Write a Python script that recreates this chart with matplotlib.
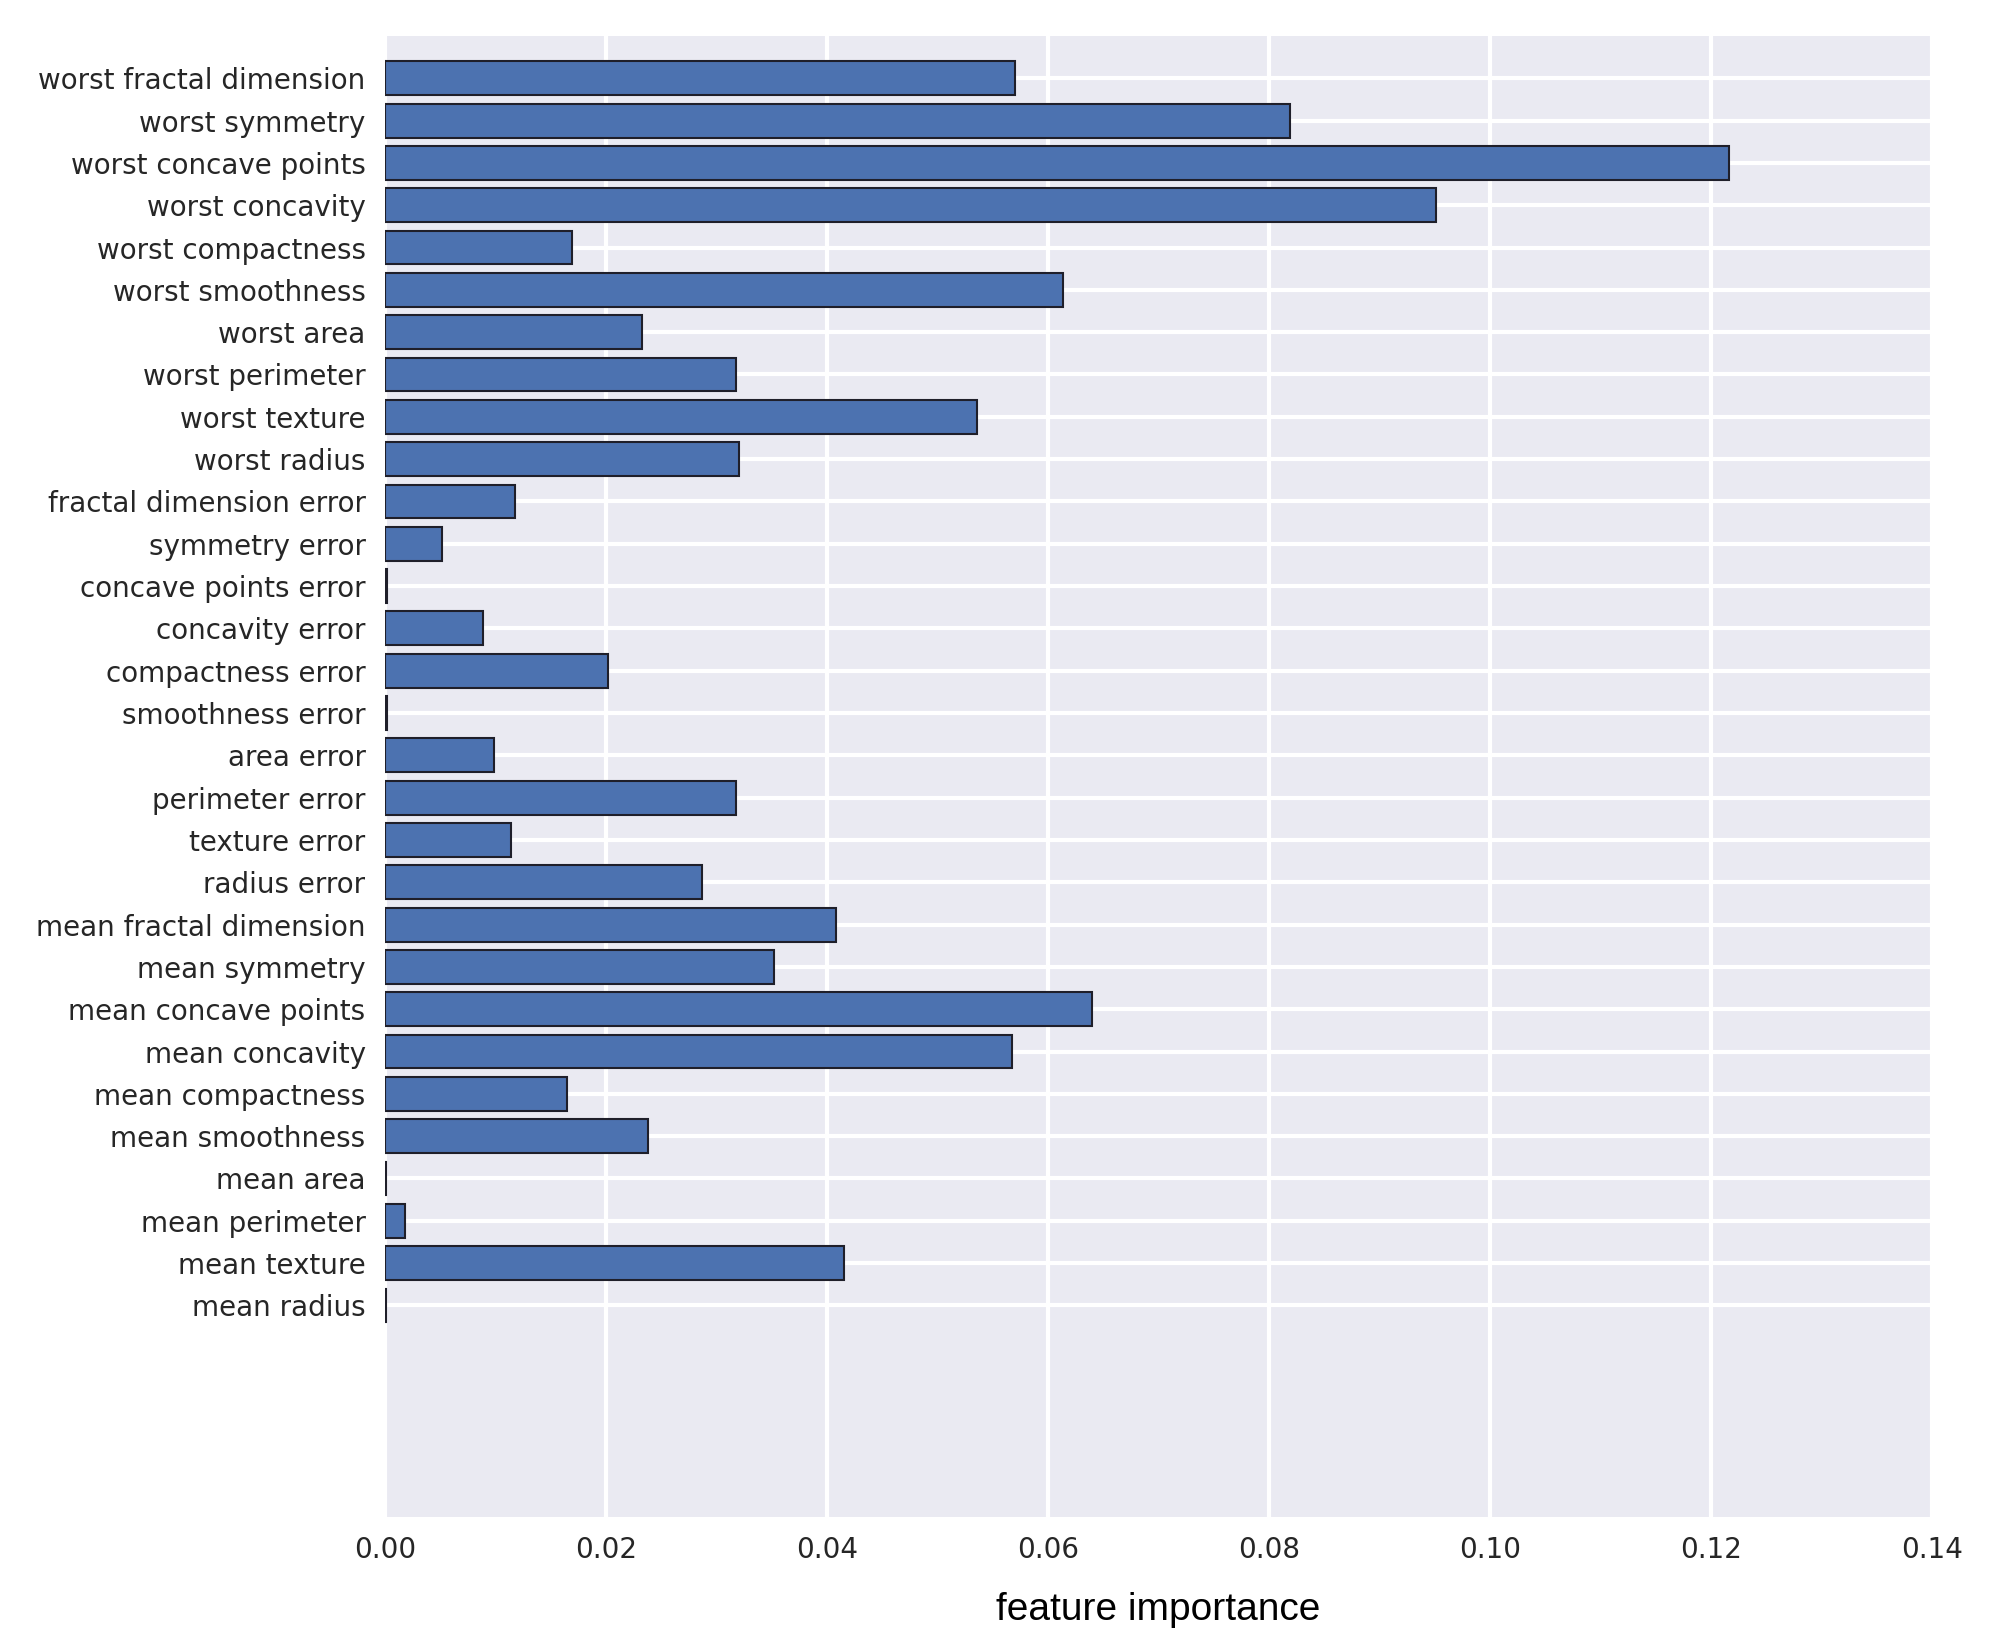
import numpy as np
import matplotlib
matplotlib.use("Agg")
import matplotlib.pyplot as plt

# feature names (bottom to top) and their importances
feature_names = [
    "mean radius", "mean texture", "mean perimeter", "mean area",
    "mean smoothness", "mean compactness", "mean concavity",
    "mean concave points", "mean symmetry", "mean fractal dimension",
    "radius error", "texture error", "perimeter error", "area error",
    "smoothness error", "compactness error", "concavity error",
    "concave points error", "symmetry error", "fractal dimension error",
    "worst radius", "worst texture", "worst perimeter", "worst area",
    "worst smoothness", "worst compactness", "worst concavity",
    "worst concave points", "worst symmetry", "worst fractal dimension",
]
importances = [
    0.0001, 0.0415, 0.0018, 0.0001,
    0.0238, 0.0165, 0.0567,
    0.0640, 0.0352, 0.0408,
    0.0287, 0.0114, 0.0318, 0.0099,
    0.0002, 0.0202, 0.0089,
    0.0002, 0.0052, 0.0118,
    0.0320, 0.0536, 0.0318, 0.0233,
    0.0614, 0.0169, 0.0951,
    0.1216, 0.0819, 0.0570,
]
x_ticks = [0.00, 0.02, 0.04, 0.06, 0.08, 0.10, 0.12, 0.14]

fig = plt.figure(figsize=(20, 16.5), dpi=100)
ax = fig.add_axes([0.1925, 0.0806, 0.7735, 0.8976])
ax.set_facecolor("#EAEAF2")
for s in ax.spines.values():
    s.set_visible(False)
ax.set_axisbelow(True)
ax.grid(True, color="white", linewidth=3)

n = len(feature_names)
ax.barh(np.arange(n), importances, height=0.8, align="center",
        color="#4C72B0", edgecolor="#1f1f2a", linewidth=1.5)

ax.set_yticks(np.arange(n))
ax.set_yticklabels(feature_names)
ax.set_xticks(x_ticks)
ax.set_xticklabels(["%.2f" % v for v in x_ticks])
ax.set_xlim(0, 0.14)
ax.set_ylim(-5, 30)
ax.tick_params(axis="both", length=0, labelsize=20, colors="#262626", pad=14)

ax.set_xlabel("feature importance", fontsize=28, family="Liberation Sans",
              color="black", labelpad=20)

fig.savefig("out.png", dpi=100)
